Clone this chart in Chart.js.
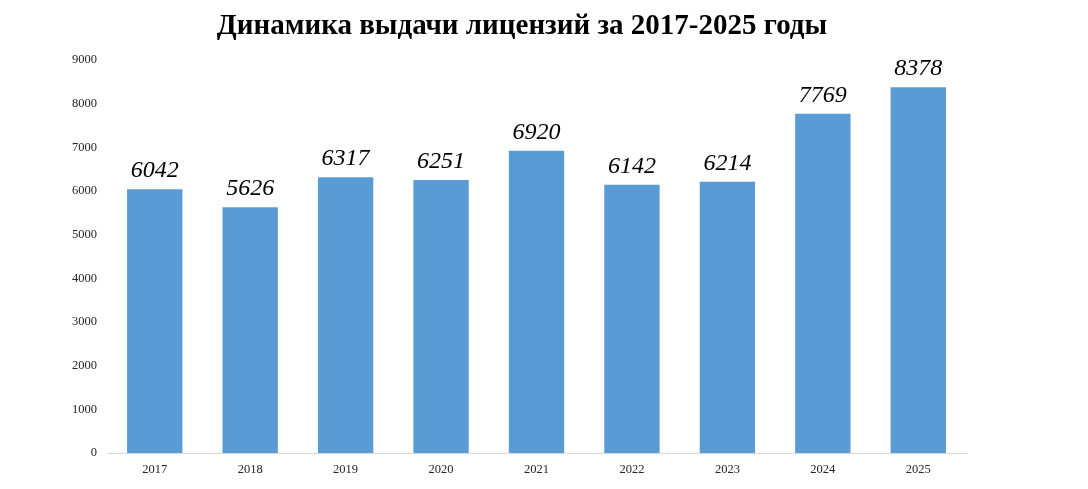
<!DOCTYPE html>
<html><head><meta charset="utf-8">
<script src="https://cdn.jsdelivr.net/npm/chart.js@4"></script>
<style>html,body{margin:0;padding:0;background:#fff}#wrap{width:1088px;height:489px}</style>
</head><body><div id="wrap"><canvas id="c"></canvas></div>
<script>
const years = ['2017','2018','2019','2020','2021','2022','2023','2024','2025'];
const licenses = [6042,5626,6317,6251,6920,6142,6214,7769,8378];
const yTicks = [0,1000,2000,3000,4000,5000,6000,7000,8000,9000];
const titleText = 'Динамика выдачи лицензий за 2017-2025 годы';

const labelPlugin = {
  id:'barLabels',
  afterDatasetsDraw(chart){
    const ctx = chart.ctx;
    const meta = chart.getDatasetMeta(0);
    ctx.save();
    ctx.font = 'italic 24px "Liberation Serif", "Times New Roman", serif';
    ctx.fillStyle = '#000';
    ctx.textAlign = 'center';
    ctx.textBaseline = 'alphabetic';
    meta.data.forEach((bar,i)=>{
      ctx.fillText(String(licenses[i]), bar.x, bar.y - 12);
    });
    // title
    ctx.font = 'bold 29px "Liberation Serif", "Times New Roman", serif';
    ctx.textBaseline = 'middle';
    ctx.fillText(titleText, 522, 27);
    ctx.restore();
  }
};

new Chart(document.getElementById('c'),{
  type:'bar',
  data:{labels:years,datasets:[{data:licenses,backgroundColor:'#5b9bd5',borderWidth:0,barPercentage:0.58,categoryPercentage:1}]},
  options:{
    responsive:true,maintainAspectRatio:false,animation:false,
    layout:{padding:{left:50,right:122,top:60,bottom:0}},
    plugins:{legend:{display:false},tooltip:{enabled:false},title:{display:false}},
    scales:{
      x:{grid:{display:false,drawTicks:false},border:{display:true,color:'#d9d9d9',width:1},
         ticks:{color:'#262626',font:{family:'"Liberation Serif", serif',size:12.5},padding:9},
         afterFit(s){s.height=36;}},
      y:{min:0,max:9000,afterBuildTicks(s){s.ticks=yTicks.map(v=>({value:v}));},
         grid:{display:false,drawTicks:false},border:{display:false},
         ticks:{color:'#262626',font:{family:'"Liberation Serif", serif',size:12.5},padding:10,callback:v=>String(v)},
         afterFit(s){s.width=57;}}
    }
  },
  plugins:[labelPlugin]
});
</script></body></html>
